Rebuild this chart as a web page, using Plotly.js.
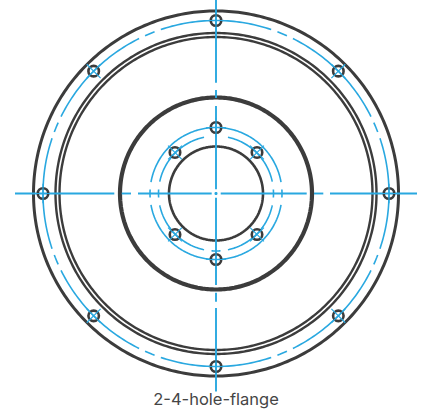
<!DOCTYPE html>
<html><head><meta charset="utf-8">
<script src="https://cdn.plot.ly/plotly-3.0.1.min.js"></script>
<style>html,body{margin:0;padding:0;background:#fff}</style></head>
<body><div id="chart" style="width:422px;height:414px"></div>
<script>
const titleText = "2-4-hole-flange";
const darkRings = [
  {r:182.5,w:3},
  {r:160.5,w:2.4},
  {r:156.5,w:2.4},
  {r:96,w:4.2},
  {r:47,w:2.6}
];
const outerBoltRadius = 173;
const outerBoltAngles = [0,45,90,135,180,225,270,315];
const outerBoltDashes = [[-18.6,18.6],[20.8,24.2],[26.4,63.6],[65.8,69.2],[71.4,108.6],[110.8,114.2],[116.4,153.6],[155.8,159.2],[161.4,198.6],[200.8,204.2],[206.4,243.6],[245.8,249.2],[251.4,288.6],[290.8,294.2],[296.4,333.6],[335.8,339.2]];
const innerBoltRadii = [66,58,58,58,58,66];
const innerBoltAngles = [90,45,135,225,315,270];
const midRadius = 66;
const midDashes = [[10,170],[190,350],[-3.5,3.5],[176.5,183.5]];
const lowRadius = 57.5;
const lowDashes = [[12,78],[102,168],[192,258],[282,348],[-4,4],[176,184],[265.5,274.5]];
const hSegments = [[-201,-101.7],[-94.3,-85],[-78,-4.3],[-1.5,1.5],[4.7,90.7],[98,107.3],[114,201]];
const vSegments = [[193.5,110.8],[103.5,95.5],[87.5,4.3],[1.5,-1.5],[-4.3,-91.5],[-99.2,-108.2],[-114.5,-198]];
const blue = "#29a8e0", dark = "#3c3c3c";

function arc(r,a0,a1){
  const xs=[],ys=[];
  const n=Math.max(2,Math.ceil(Math.abs(a1-a0)));
  for(let i=0;i<=n;i++){const t=(a0+(a1-a0)*i/n)*Math.PI/180;xs.push(r*Math.cos(t));ys.push(r*Math.sin(t));}
  return [xs,ys];
}
function lineTrace(pieces,color,width){
  const x=[],y=[];
  pieces.forEach(p=>{x.push(...p[0],null);y.push(...p[1],null);});
  return {type:"scatter",mode:"lines",x,y,line:{color,width,simplify:false},hoverinfo:"skip",showlegend:false,cliponaxis:false};
}
const traces=[];
darkRings.forEach(d=>traces.push(lineTrace([arc(d.r,0,360)],dark,d.w)));
traces.push(lineTrace(outerBoltDashes.map(d=>arc(outerBoltRadius,d[0],d[1])),blue,1.6));
traces.push(lineTrace(midDashes.map(d=>arc(midRadius,d[0],d[1])),blue,1.6));
traces.push(lineTrace(lowDashes.map(d=>arc(lowRadius,d[0],d[1])),blue,1.6));
traces.push(lineTrace(hSegments.map(s=>[s,[0,0]]),blue,1.9));
traces.push(lineTrace(vSegments.map(s=>[[0,0],s]),blue,1.9));
const pos=(rs,as)=>({x:as.map((a,i)=>rs[i]*Math.cos(a*Math.PI/180)),y:as.map((a,i)=>rs[i]*Math.sin(a*Math.PI/180))});
const outerPos=pos(outerBoltAngles.map(()=>outerBoltRadius),outerBoltAngles);
const innerPos=pos(innerBoltRadii,innerBoltAngles);
const boltX=[...outerPos.x,...innerPos.x], boltY=[...outerPos.y,...innerPos.y];
const boltA=[...outerBoltAngles,...innerBoltAngles];
traces.push({type:"scatter",mode:"markers",x:boltX,y:boltY,hoverinfo:"skip",showlegend:false,
  marker:{symbol:"circle-open",size:10.5,color:dark,line:{color:dark,width:2.6}}});
traces.push({type:"scatter",mode:"markers",x:boltX,y:boltY,hoverinfo:"skip",showlegend:false,
  marker:{symbol:"cross-thin-open",size:14,angle:boltA.map(a=>-a),color:blue,line:{color:blue,width:1.2}}});
const layout={
  width:422,height:414,margin:{l:0,r:0,t:0,b:0},paper_bgcolor:"#fff",plot_bgcolor:"#fff",showlegend:false,
  xaxis:{range:[-216,206],visible:false,fixedrange:true},
  yaxis:{range:[-220.5,193.5],visible:false,fixedrange:true},
  title:{text:titleText,x:0.512,xanchor:"center",y:0.0345,yanchor:"middle",font:{family:"Inter, sans-serif",size:16.5,color:"#454545"}}
};
Plotly.newPlot("chart",traces,layout,{displayModeBar:false,staticPlot:true});
</script></body></html>
